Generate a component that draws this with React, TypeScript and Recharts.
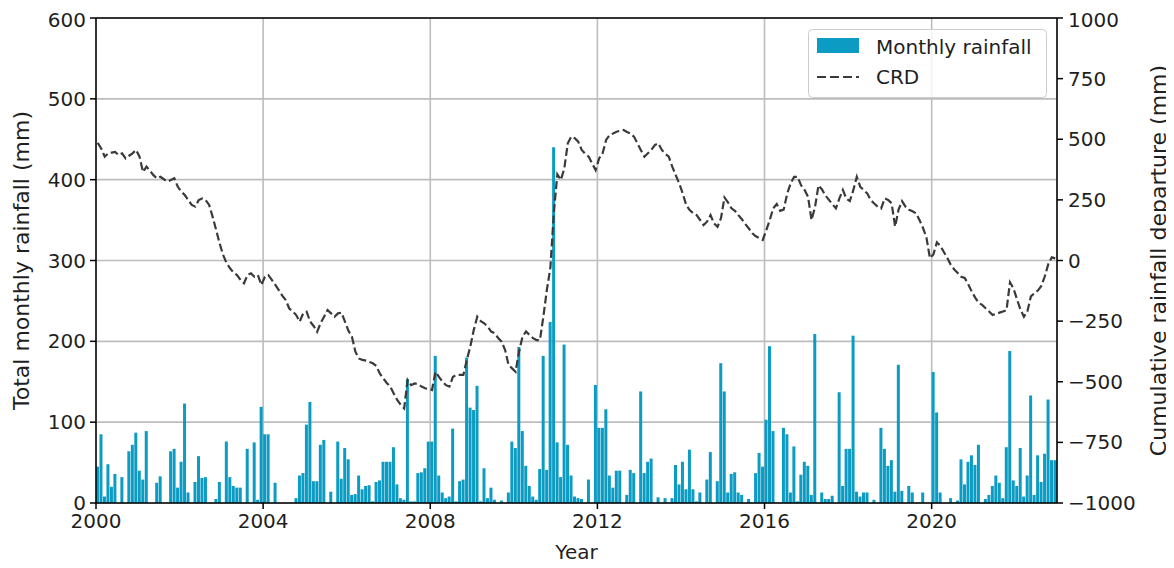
import React from 'react';
import { ComposedChart, Bar, Line, XAxis, YAxis, CartesianGrid, ReferenceLine } from 'recharts';

// Monthly rainfall (mm), Jan 2000 .. Dec 2022, one row per year
const monthlyRainfall: number[] = [
  45, 85, 8, 48, 20, 36, 0, 32, 0, 64, 72, 87, // 2000
  40, 29, 89, 0, 0, 25, 33, 0, 0, 64, 67, 19, // 2001
  51, 123, 13, 0, 26, 58, 31, 32, 0, 0, 5, 26, // 2002
  0, 76, 32, 21, 19, 19, 0, 67, 0, 75, 4, 119, // 2003
  85, 85, 0, 25, 0, 0, 0, 0, 0, 6, 34, 37, // 2004
  97, 125, 27, 27, 72, 78, 0, 14, 0, 76, 30, 68, // 2005
  54, 10, 11, 34, 17, 21, 22, 2, 26, 28, 51, 51, // 2006
  51, 69, 23, 6, 4, 153, 2, 2, 37, 38, 43, 76, // 2007
  76, 182, 34, 13, 6, 8, 92, 2, 27, 29, 180, 118, // 2008
  115, 145, 2, 43, 6, 19, 4, 0, 3, 0, 13, 76, // 2009
  68, 193, 89, 46, 21, 8, 4, 42, 182, 41, 224, 440, // 2010
  75, 32, 196, 72, 34, 8, 6, 5, 0, 29, 0, 146, // 2011
  93, 93, 116, 34, 19, 40, 40, 0, 10, 41, 37, 0, // 2012
  138, 37, 51, 55, 0, 7, 0, 6, 0, 6, 47, 23, // 2013
  51, 17, 66, 17, 2, 13, 0, 29, 63, 0, 27, 173, // 2014
  138, 13, 36, 38, 13, 10, 0, 5, 0, 37, 62, 45, // 2015
  103, 194, 89, 0, 0, 93, 85, 13, 70, 2, 35, 51, // 2016
  46, 10, 209, 0, 13, 5, 5, 9, 0, 137, 21, 67, // 2017
  67, 207, 14, 8, 13, 13, 0, 4, 0, 93, 67, 46, // 2018
  53, 14, 171, 15, 0, 21, 13, 0, 0, 13, 0, 0, // 2019
  162, 112, 13, 0, 0, 6, 0, 3, 54, 23, 51, 59, // 2020
  47, 72, 0, 5, 10, 21, 34, 25, 6, 69, 188, 28, // 2021
  21, 68, 8, 34, 133, 10, 59, 26, 61, 128, 53, 53, // 2022
];

// Cumulative rainfall departure (mm), same months
const cumulativeDeparture: number[] = [
  485, 462, 428, 442, 445, 448, 435, 442, 421, 432, 442, 456, // 2000
  428, 365, 387, 370, 352, 339, 345, 335, 325, 332, 339, 304, // 2001
  284, 270, 249, 229, 222, 249, 256, 249, 229, 180, 126, 71, // 2002
  23, -11, -32, -50, -60, -80, -94, -60, -53, -67, -60, -101, // 2003
  -67, -60, -80, -101, -122, -145, -163, -198, -210, -225, -252, -218, // 2004
  -211, -252, -270, -294, -259, -232, -204, -218, -232, -218, -215, -252, // 2005
  -290, -314, -376, -404, -410, -413, -418, -424, -435, -466, -486, -505, // 2006
  -520, -548, -575, -595, -610, -493, -514, -507, -510, -520, -527, -530, // 2007
  -534, -459, -480, -500, -514, -520, -480, -472, -472, -472, -410, -355, // 2008
  -286, -232, -250, -259, -273, -293, -300, -320, -335, -369, -431, -445, // 2009
  -459, -376, -314, -293, -307, -320, -328, -328, -230, -120, -30, 200, // 2010
  355, 332, 380, 483, 511, 504, 490, 456, 440, 428, 400, 373, // 2011
  421, 442, 497, 518, 524, 531, 535, 538, 530, 524, 511, 483, // 2012
  455, 428, 442, 456, 476, 483, 456, 440, 428, 387, 352, 318, // 2013
  277, 229, 208, 195, 187, 167, 146, 160, 187, 153, 139, 175, // 2014
  260, 240, 215, 205, 187, 170, 150, 132, 112, 100, 92, 85, // 2015
  125, 167, 215, 233, 205, 210, 275, 318, 345, 345, 310, 291, // 2016
  263, 167, 220, 310, 293, 268, 250, 232, 215, 256, 291, 255, // 2017
  245, 290, 345, 304, 290, 277, 249, 235, 222, 215, 256, 250, // 2018
  236, 140, 210, 245, 222, 209, 203, 195, 167, 135, 95, 10, // 2019
  25, 75, 60, 35, 10, -18, -37, -52, -67, -72, -98, -128, // 2020
  -153, -175, -183, -197, -210, -225, -220, -215, -210, -205, -90, -115, // 2021
  -160, -202, -232, -210, -148, -135, -124, -105, -65, -15, 13, 9, // 2022
];

const startYear = 2000;
const yearTickLabels = [2000, 2004, 2008, 2012, 2016, 2020];
const rainTicks = [0, 100, 200, 300, 400, 500, 600];
const crdTicks = [-1000, -750, -500, -250, 0, 250, 500, 750, 1000];

const totalMonths = monthlyRainfall.length;
const data = monthlyRainfall.map((rain, i) => ({
  idx: i,
  t: i + 0.5,
  rain,
  crd: cumulativeDeparture[i],
}));
const yearTickPositions = yearTickLabels.map((y) => (y - startYear) * 12);

const FONT = '"DejaVu Sans", sans-serif';
const TEXT = '#1f1f1f';
const BAR = '#0b9bc3';
const LINE = '#3a3a3a';
const TICK_FS = 20;
const LABEL_FS = 22;

const W = 1166;
const H = 560;
const M = { top: 10, right: 5, bottom: 5, left: 0 };
const LEFT_W = 88;
const RIGHT_W = 112;
const XAXIS_H = 60;
const plotTop = M.top;
const plotBottom = H - M.bottom - XAXIS_H;
const plotMidY = (plotTop + plotBottom) / 2;

const fmtRight = (v: number) => (v < 0 ? '\u2212' + Math.abs(v) : String(v));

const leftLabel = () => (
  <text
    x={13}
    y={plotMidY}
    transform={`rotate(-90, 13, ${plotMidY})`}
    textAnchor="middle"
    dominantBaseline="central"
    fontSize={LABEL_FS}
    fontFamily={FONT}
    fill={TEXT}
  >
    Total monthly rainfall (mm)
  </text>
);

const rightLabel = () => (
  <text
    x={1150}
    y={plotMidY}
    transform={`rotate(-90, 1150, ${plotMidY})`}
    textAnchor="middle"
    dominantBaseline="central"
    fontSize={LABEL_FS}
    fontFamily={FONT}
    fill={TEXT}
  >
    Cumulative rainfall departure (mm)
  </text>
);

const bottomLabel = () => (
  <text
    x={(LEFT_W + M.left + (W - M.right - RIGHT_W)) / 2}
    y={551}
    textAnchor="middle"
    fontSize={20}
    fontFamily={FONT}
    fill={TEXT}
  >
    Year
  </text>
);

const Legend = () => (
  <svg
    width={240}
    height={70}
    style={{ position: 'absolute', left: 800, top: 21, overflow: 'visible' }}
  >
    <rect x={0.5} y={0.5} width={238} height={68} rx={4} ry={4} fill="rgba(255,255,255,0.8)" stroke="#cccccc" strokeWidth={1} />
    <rect x={9} y={9} width={42} height={15} fill={BAR} />
    <text x={68} y={25} fontSize={20} fontFamily={FONT} fill={TEXT}>Monthly rainfall</text>
    <line x1={9} y1={48} x2={51} y2={48} stroke={LINE} strokeWidth={2} strokeDasharray="9 4" />
    <text x={68} y={55} fontSize={20} fontFamily={FONT} fill={TEXT}>CRD</text>
  </svg>
);

export default function App() {
  return (
    <div style={{ position: 'relative', width: W, height: H }}>
      <ComposedChart width={W} height={H} data={data} margin={M} barCategoryGap={0}>
        <XAxis
          xAxisId="year"
          dataKey="t"
          type="number"
          domain={[0, totalMonths]}
          ticks={yearTickPositions}
          tickFormatter={(v: number) => String(startYear + v / 12)}
          height={XAXIS_H}
          allowDataOverflow
          axisLine={{ stroke: '#000', strokeWidth: 1.5 }}
          tickLine={{ stroke: '#000', strokeWidth: 1.5 }}
          tickSize={6}
          tickMargin={5}
          tick={{ fontSize: TICK_FS, fontFamily: FONT, fill: TEXT }}
          label={bottomLabel}
        />
        <XAxis xAxisId="cat" dataKey="idx" type="category" hide height={0} />
        <YAxis
          yAxisId="left"
          domain={[0, 600]}
          ticks={rainTicks}
          width={LEFT_W}
          allowDataOverflow
          axisLine={{ stroke: '#000', strokeWidth: 1.5 }}
          tickLine={{ stroke: '#000', strokeWidth: 1.5 }}
          tickSize={6}
          tickMargin={4}
          tick={{ fontSize: TICK_FS, fontFamily: FONT, fill: TEXT }}
          label={leftLabel}
        />
        <YAxis
          yAxisId="right"
          orientation="right"
          domain={[-1000, 1000]}
          ticks={crdTicks}
          width={RIGHT_W}
          allowDataOverflow
          tickFormatter={fmtRight}
          axisLine={{ stroke: '#000', strokeWidth: 1.5 }}
          tickLine={{ stroke: '#000', strokeWidth: 1.5 }}
          tickSize={6}
          tickMargin={5}
          tick={{ fontSize: TICK_FS, fontFamily: FONT, fill: TEXT }}
          label={rightLabel}
        />
        <CartesianGrid xAxisId="year" yAxisId="left" stroke="#bdbdbd" strokeWidth={1.6} />
        <Bar
          xAxisId="cat"
          yAxisId="left"
          dataKey="rain"
          fill={BAR}
          barSize={3}
          isAnimationActive={false}
        />
        <Line
          xAxisId="year"
          yAxisId="right"
          dataKey="crd"
          type="linear"
          stroke={LINE}
          strokeWidth={2.2}
          strokeDasharray="8 3.5"
          dot={false}
          activeDot={false}
          isAnimationActive={false}
        />
        <ReferenceLine xAxisId="year" yAxisId="left" y={600} stroke="#000" strokeWidth={1.5} />
      </ComposedChart>
      <Legend />
    </div>
  );
}
